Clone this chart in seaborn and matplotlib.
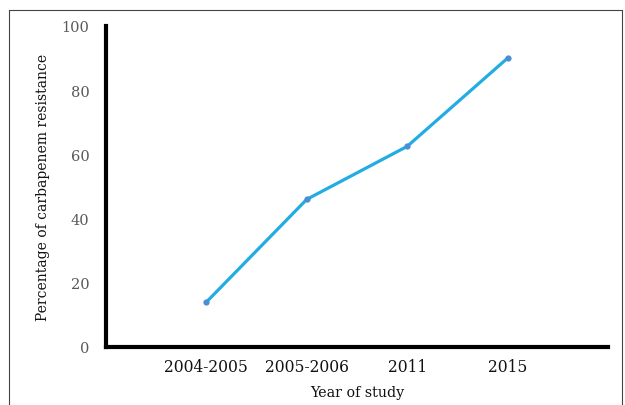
import matplotlib
matplotlib.use("Agg")
import matplotlib.pyplot as plt
import seaborn as sns
import pandas as pd
from matplotlib.lines import Line2D

# Dados
anos = ["2004-2005", "2005-2006", "2011", "2015"]
resistencia = [14, 46, 62.5, 90]
y_ticks = [0, 20, 40, 60, 80, 100]

df = pd.DataFrame({"pos": range(1, len(anos) + 1), "valor": resistencia})

sns.set_style("white")
plt.rcParams["font.family"] = ["DejaVu Serif"]

fig = plt.figure(figsize=(6.25, 4.06), dpi=100)
ax = fig.add_axes([0.1696, 0.1429, 0.8032, 0.7906])

sns.lineplot(data=df, x="pos", y="valor", ax=ax, color="#22ACE3", linewidth=2.3,
             marker="o", markersize=4.5, markerfacecolor="#4A8FD6", markeredgewidth=0)

ax.set_xlim(0, 5)
ax.set_ylim(0, 100)
ax.set_xticks(df["pos"])
ax.set_xticklabels(anos, fontsize=11.2, color="#111111")
ax.set_yticks(y_ticks)
ax.set_yticklabels([str(v) for v in y_ticks], fontsize=10.5, color="#595959")
ax.tick_params(axis="x", length=0, pad=8)
ax.tick_params(axis="y", length=0, pad=12)
ax.set_xlabel("Year of study", fontsize=10.3, labelpad=7, color="#111111")
ax.set_ylabel("Percentage of carbapenem resistance", fontsize=10, labelpad=8, color="#111111")

for lado in ["top", "right"]:
    ax.spines[lado].set_visible(False)
for lado in ["left", "bottom"]:
    ax.spines[lado].set_color("black")
    ax.spines[lado].set_linewidth(3)

# Moldura fina em volta da figura
W, H = 625, 406
moldura = dict(color="#444444", linewidth=0.8, transform=fig.transFigure)
fig.add_artist(Line2D([9 / W, 9 / W], [0, 1 - 11 / H], **moldura))
fig.add_artist(Line2D([9 / W, 622 / W], [1 - 11 / H, 1 - 11 / H], **moldura))
fig.add_artist(Line2D([622 / W, 622 / W], [0, 1 - 11 / H], **moldura))

fig.savefig("out.png", dpi=100)
